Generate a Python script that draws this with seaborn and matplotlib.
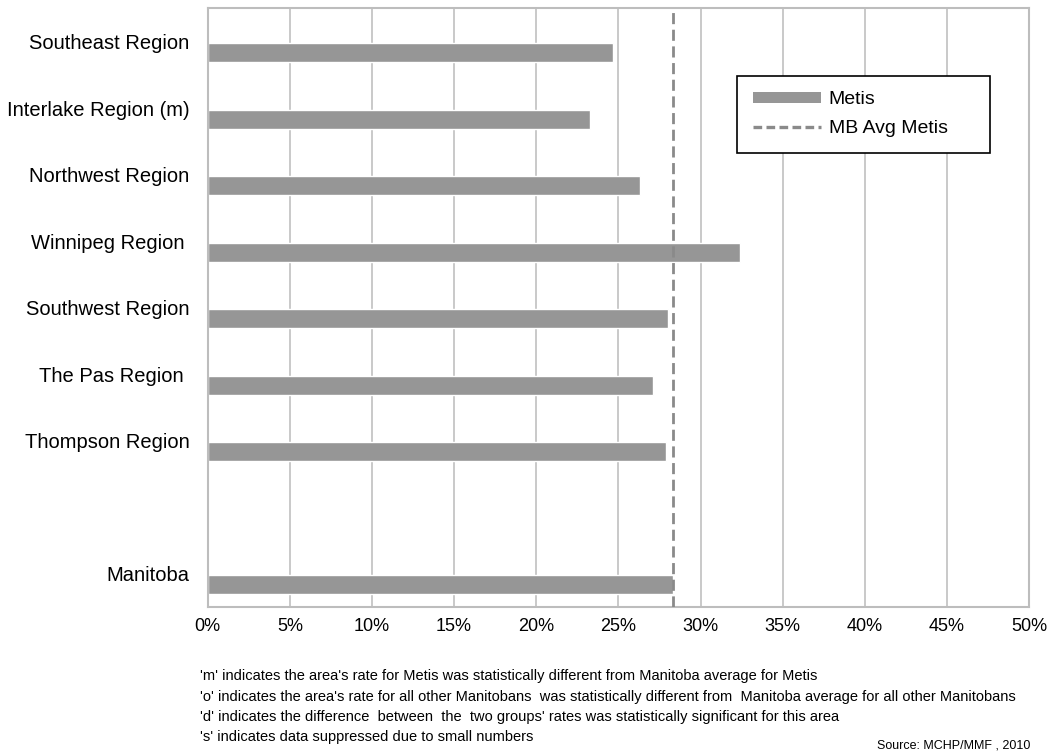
import numpy as np
import pandas as pd
import matplotlib.pyplot as plt
import seaborn as sns
from matplotlib.patches import Patch
from matplotlib.lines import Line2D

# values (rates, %)
regions = ["Southeast Region", "Interlake Region (m)", "Northwest Region", "Winnipeg Region ",
           "Southwest Region", "The Pas Region ", "Thompson Region", " ", "Manitoba"]
metis = [24.7, 23.3, 26.3, 32.4, 28.0, 27.1, 27.9, np.nan, 28.35]
other = [np.nan] * len(regions)  # all other Manitobans: not shown
mb_avg_metis = 28.35

footnotes = [
    "'m' indicates the area's rate for Metis was statistically different from Manitoba average for Metis",
    "'o' indicates the area's rate for all other Manitobans  was statistically different from  Manitoba average for all other Manitobans",
    "'d' indicates the difference  between  the  two groups' rates was statistically significant for this area",
    "'s' indicates data suppressed due to small numbers",
]

df = pd.DataFrame({
    "region": regions * 2,
    "rate": metis + other,
    "group": ["Metis"] * len(regions) + ["Other"] * len(regions),
})

sns.set_style("white")
plt.rcParams['font.family'] = ['Liberation Sans', 'DejaVu Sans']
plt.rcParams['text.color'] = 'black'
plt.rcParams['xtick.color'] = 'black'
plt.rcParams['ytick.color'] = 'black'

fig = plt.figure(figsize=(10.49, 7.53), dpi=100)
ax = fig.add_axes([0.198, 0.194, 0.783, 0.795])

sns.barplot(data=df, y="region", x="rate", hue="group", order=regions,
            hue_order=["Other", "Metis"], palette={"Metis": "#969696", "Other": "#5a5a5a"},
            orient="h", width=0.68, gap=0.16, errorbar=None, legend=False, ax=ax)

ax.axvline(mb_avg_metis, color="#8a8a8a", lw=2.0, ls=(0, (4, 2)), zorder=3)

ax.set_xlim(0, 50)
ax.set_xticks(np.arange(0, 51, 5))
ax.set_xticklabels([f"{t}%" for t in range(0, 51, 5)], fontsize=13)
ax.tick_params(axis="y", labelsize=14.5, pad=13, length=0)
ax.tick_params(axis="x", pad=8, length=0)
ax.set_xlabel("")
ax.set_ylabel("")
ax.grid(axis="x", color="#c0c0c0", lw=1.2)
ax.set_axisbelow(True)
for s in ax.spines.values():
    s.set_color("#bdbdbd")
    s.set_linewidth(1.5)

handles = [Patch(facecolor="#969696", edgecolor="none", label="Metis"),
           Line2D([0], [0], color="#8a8a8a", lw=2.4, ls=(0, (2.6, 1.3)), label="MB Avg Metis     ")]
leg = ax.legend(handles=handles, loc="upper left", bbox_to_anchor=(0.645, 0.887),
                fontsize=14, frameon=True, fancybox=False, handlelength=3.5,
                handleheight=0.5, labelspacing=0.6, borderpad=0.8, handletextpad=0.4,
                borderaxespad=0)
leg.get_frame().set_edgecolor("black")
leg.get_frame().set_linewidth(1.2)
leg.get_frame().set_alpha(1)

for i, line in enumerate(footnotes):
    fig.text(200 / 1049, 1 - (676 + i * 20.5) / 753, line, fontsize=10.5, va="center", ha="left")
fig.text(1030 / 1049, 1 / 753, "Source: MCHP/MMF , 2010", fontsize=9, va="bottom", ha="right")

plt.savefig("out.png", dpi=100)
